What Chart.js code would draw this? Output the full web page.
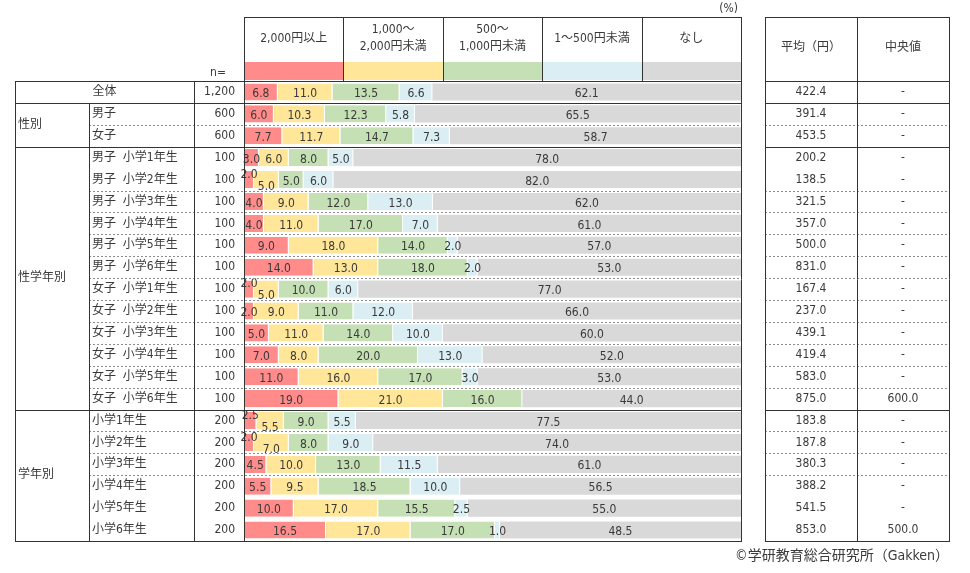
<!DOCTYPE html>
<html lang="ja">
<head>
<meta charset="utf-8">
<script src="https://cdn.jsdelivr.net/npm/chart.js@4.4.0/dist/chart.umd.min.js"></script>
<style>
    html, body { margin: 0; padding: 0; background: #fff; }
    #wrap { width: 970px; height: 573px; }
</style>
</head>
<body>
<div id="wrap"><canvas id="pocketChart" width="970" height="573"></canvas></div>
<script>
// ===== DATA =====
const categories = [
    "全体", "男子", "女子",
    "男子  小学1年生", "男子  小学2年生", "男子  小学3年生", "男子  小学4年生", "男子  小学5年生", "男子  小学6年生",
    "女子  小学1年生", "女子  小学2年生", "女子  小学3年生", "女子  小学4年生", "女子  小学5年生", "女子  小学6年生",
    "小学1年生", "小学2年生", "小学3年生", "小学4年生", "小学5年生", "小学6年生"
];
const groupNames = ["", "性別", "性学年別", "学年別"];
const groupSizes = [1, 2, 12, 6];
const sampleSizes = ["1,200", "600", "600",
    "100", "100", "100", "100", "100", "100", "100", "100", "100", "100", "100", "100",
    "200", "200", "200", "200", "200", "200"];

const seriesNames = ["2,000円以上", ["1,000～", "2,000円未満"], ["500～", "1,000円未満"], "1～500円未満", "なし"];
const over2000 = [6.8, 6.0, 7.7, 3.0, 2.0, 4.0, 4.0, 9.0, 14.0, 2.0, 2.0, 5.0, 7.0, 11.0, 19.0, 2.5, 2.0, 4.5, 5.5, 10.0, 16.5];
const from1000 = [11.0, 10.3, 11.7, 6.0, 5.0, 9.0, 11.0, 18.0, 13.0, 5.0, 9.0, 11.0, 8.0, 16.0, 21.0, 5.5, 7.0, 10.0, 9.5, 17.0, 17.0];
const from500 = [13.5, 12.3, 14.7, 8.0, 5.0, 12.0, 17.0, 14.0, 18.0, 10.0, 11.0, 14.0, 20.0, 17.0, 16.0, 9.0, 8.0, 13.0, 18.5, 15.5, 17.0];
const under500 = [6.6, 5.8, 7.3, 5.0, 6.0, 13.0, 7.0, 2.0, 2.0, 6.0, 12.0, 10.0, 13.0, 3.0, 0, 5.5, 9.0, 11.5, 10.0, 2.5, 1.0];
const noMoney = [62.1, 65.5, 58.7, 78.0, 82.0, 62.0, 61.0, 57.0, 53.0, 77.0, 66.0, 60.0, 52.0, 53.0, 44.0, 77.5, 74.0, 61.0, 56.5, 55.0, 48.5];

const averages = ["422.4", "391.4", "453.5", "200.2", "138.5", "321.5", "357.0", "500.0", "831.0",
    "167.4", "237.0", "439.1", "419.4", "583.0", "875.0", "183.8", "187.8", "380.3", "388.2", "541.5", "853.0"];
const medians = ["-", "-", "-", "-", "-", "-", "-", "-", "-", "-", "-", "-", "-", "-", "600.0",
    "-", "-", "-", "-", "-", "500.0"];

// ===== LAYOUT / STYLE =====
const FONT = '"DejaVu Sans Condensed", "Noto Sans CJK JP", sans-serif';
const TEXT = "#3a3a3a";
const LINE = "#333333";
const DASH = "#8c8c8c";
const colors = ["#FF8B8B", "#FFE699", "#C5E0B4", "#DAEEF3", "#D9D9D9"];
const leftCols = [15, 89, 194];
const rightCols = [765, 857, 949];
const headerTop = 17;
const bandTop = 62;
const noSeparatorAfter = [3, 18, 19];

function px(v) {
    return Math.round(v) + 0.5;
}

function hLine(ctx, x1, x2, y, dashed) {
    ctx.save();
    ctx.strokeStyle = dashed ? DASH : LINE;
    ctx.setLineDash(dashed ? [2, 2] : []);
    ctx.beginPath();
    ctx.moveTo(x1, px(y));
    ctx.lineTo(x2, px(y));
    ctx.stroke();
    ctx.restore();
}

function vLine(ctx, x, y1, y2) {
    ctx.save();
    ctx.strokeStyle = LINE;
    ctx.beginPath();
    ctx.moveTo(px(x), Math.round(y1));
    ctx.lineTo(px(x), Math.round(y2) + 1);
    ctx.stroke();
    ctx.restore();
}

function text(ctx, str, x, y, align, size) {
    ctx.font = (size || 12) + "px " + FONT;
    ctx.fillStyle = TEXT;
    ctx.textAlign = align || "center";
    ctx.textBaseline = "middle";
    ctx.fillText(str, x, y);
}

// Draws the table around the bars and the value labels
const tablePlugin = {
    id: "tablePlugin",
    afterDraw(chart) {
        const ctx = chart.ctx;
        const area = chart.chartArea;
        const xs = chart.scales.x;
        const ys = chart.scales.y;
        const n = categories.length;

        // row borders
        const bounds = [area.top];
        for (let i = 1; i < n; i++) {
            bounds.push((ys.getPixelForValue(i - 1) + ys.getPixelForValue(i)) / 2);
        }
        bounds.push(area.bottom);

        ctx.save();
        ctx.lineWidth = 1;

        // value labels
        chart.data.datasets.forEach((ds, d) => {
            const meta = chart.getDatasetMeta(d);
            meta.data.forEach((bar, i) => {
                const v = ds.data[i];
                if (!v) return;
                const cx = (bar.x + bar.base) / 2;
                let cy = bar.y + 2;
                if (d < 2) {
                    const b0 = chart.getDatasetMeta(0).data[i];
                    const b1 = chart.getDatasetMeta(1).data[i];
                    const c0 = (b0.x + b0.base) / 2;
                    const c1 = (b1.x + b1.base) / 2;
                    if (over2000[i] <= 2.5 && c1 - c0 < 24) {
                        cy = d === 0 ? bar.y - 5 : bar.y + 7;
                    }
                }
                text(ctx, v.toFixed(1), cx, cy, "center");
            });
        });

        // header colour band + header texts
        for (let k = 0; k < 5; k++) {
            const x1 = xs.getPixelForValue(k * 20);
            const x2 = xs.getPixelForValue((k + 1) * 20);
            ctx.fillStyle = colors[k];
            ctx.fillRect(x1, bandTop, x2 - x1, area.top - bandTop - 1);
            const name = seriesNames[k];
            const cx = (x1 + x2) / 2;
            if (Array.isArray(name)) {
                text(ctx, name[0], cx, 30);
                text(ctx, name[1], cx, 47);
            } else {
                text(ctx, name, cx, 39);
            }
        }
        text(ctx, "(%)", 738, 9, "right");
        text(ctx, "n=", 218, 73);
        text(ctx, "平均（円）", (rightCols[0] + rightCols[1]) / 2, 48);
        text(ctx, "中央値", (rightCols[1] + rightCols[2]) / 2, 48);

        // horizontal lines
        hLine(ctx, area.left, area.right, headerTop, false);
        hLine(ctx, rightCols[0], rightCols[2], headerTop, false);
        const groupEdges = [0];
        groupSizes.forEach((s) => groupEdges.push(groupEdges[groupEdges.length - 1] + s));
        for (let k = 0; k <= n; k++) {
            const y = bounds[k];
            if (groupEdges.includes(k)) {
                hLine(ctx, leftCols[0], area.right, y, false);
                hLine(ctx, rightCols[0], rightCols[2], y, false);
            } else if (!noSeparatorAfter.includes(k - 1)) {
                hLine(ctx, leftCols[1], area.right, y, true);
                hLine(ctx, rightCols[0], rightCols[2], y, true);
            }
        }

        // vertical lines
        vLine(ctx, leftCols[0], area.top, area.bottom);
        vLine(ctx, leftCols[1], bounds[1], area.bottom);
        vLine(ctx, leftCols[2], area.top, area.bottom);
        vLine(ctx, area.left, headerTop, area.bottom);
        vLine(ctx, area.right, headerTop, area.bottom);
        for (let k = 1; k < 5; k++) {
            vLine(ctx, xs.getPixelForValue(k * 20), headerTop, area.top);
        }
        rightCols.forEach((x) => vLine(ctx, x, headerTop, area.bottom));

        // left table texts
        let start = 0;
        groupSizes.forEach((size, g) => {
            const top = bounds[start];
            const bottom = bounds[start + size];
            if (groupNames[g]) {
                text(ctx, groupNames[g], leftCols[0] + 3, (top + bottom) / 2, "left");
            }
            for (let i = start; i < start + size; i++) {
                const cy = ys.getPixelForValue(i);
                if (groupNames[g]) {
                    text(ctx, categories[i], leftCols[1] + 3, cy, "left");
                } else {
                    text(ctx, categories[i], (leftCols[0] + leftCols[2]) / 2, cy);
                }
                text(ctx, sampleSizes[i], area.left - 9, cy, "right");
                text(ctx, averages[i], (rightCols[0] + rightCols[1]) / 2, cy);
                text(ctx, medians[i], (rightCols[1] + rightCols[2]) / 2, cy);
            }
            start += size;
        });

        text(ctx, "©学研教育総合研究所（Gakken）", rightCols[2], 556, "right", 14);
        ctx.restore();
    },
};

document.addEventListener("DOMContentLoaded", function () {
    const seriesData = [over2000, from1000, from500, under500, noMoney];
    const datasets = seriesData.map((data, k) => ({
        label: Array.isArray(seriesNames[k]) ? seriesNames[k].join("") : seriesNames[k],
        data: data,
        backgroundColor: colors[k],
        borderColor: "#ffffff",
        borderWidth: k < 4 ? { top: 0, bottom: 0, left: 0, right: 1 } : 0,
        borderSkipped: false,
        barPercentage: 0.78,
        categoryPercentage: 1.0,
    }));

    new Chart(document.getElementById("pocketChart"), {
        type: "bar",
        data: { labels: categories, datasets: datasets },
        options: {
            indexAxis: "y",
            responsive: false,
            animation: false,
            layout: { padding: { left: 244, right: 229, top: 81, bottom: 32 } },
            plugins: {
                legend: { display: false },
                tooltip: { enabled: false },
            },
            scales: {
                x: { stacked: true, min: 0, max: 100, display: false },
                y: { stacked: true, display: false },
            },
        },
        plugins: [tablePlugin],
    });
});
</script>
</body>
</html>
